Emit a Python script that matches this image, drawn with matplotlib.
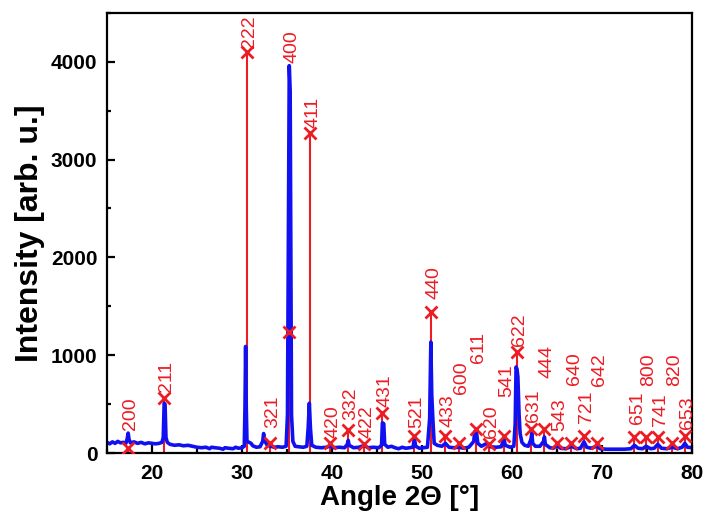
import matplotlib
matplotlib.use("Agg")
import matplotlib.pyplot as plt
from matplotlib.ticker import MultipleLocator

plt.rcParams["font.family"] = ["Liberation Sans", "DejaVu Sans"]

RED = "#ec1c24"
BLUE = "#1010f0"

blue_angle = [
    15.0, 15.3, 15.6, 15.9, 16.2, 16.5, 16.8, 17.1, 17.25, 17.35, 17.45, 17.6,
    18.0, 18.4, 18.8, 19.2, 19.6, 20.0, 20.4, 20.8, 21.1, 21.25, 21.35, 21.45,
    21.55, 21.7, 22.0, 22.5, 23.0, 23.5, 24.0, 24.5, 25.0, 25.5, 26.0, 26.4,
    26.6, 27.0, 27.5, 27.9, 28.1, 28.5, 29.0, 29.3, 29.6, 30.0, 30.25, 30.33,
    30.4, 30.47, 30.55, 30.8, 31.0, 31.2, 31.6, 32.0, 32.3, 32.4, 32.5, 32.8,
    33.2, 33.6, 34.0, 34.5, 34.9, 35.05, 35.25, 35.35, 35.5, 35.65, 35.9, 36.3,
    36.8, 37.2, 37.35, 37.48, 37.6, 37.75, 38.2, 38.8, 39.4, 39.8, 40.2, 40.8,
    41.4, 41.7, 41.8, 41.9, 42.4, 43.0, 43.6, 44.0, 44.6, 45.2, 45.5, 45.6,
    45.75, 45.85, 46.2, 46.6, 47.0, 47.4, 47.8, 48.2, 48.6, 49.0, 49.15, 49.3,
    49.7, 50.2, 50.6, 50.85, 50.98, 51.08, 51.2, 51.35, 51.7, 52.2, 52.6, 53.0,
    53.5, 54.1, 54.6, 55.2, 55.75, 55.85, 56.05, 56.2, 56.6, 57.2, 57.6, 58.2,
    58.8, 59.0, 59.1, 59.25, 59.8, 60.2, 60.35, 60.45, 60.55, 60.65, 60.78, 60.9,
    61.1, 61.4, 61.8, 62.1, 62.2, 62.3, 62.6, 63.1, 63.5, 63.6, 63.7, 64.2,
    64.6, 65.0, 65.4, 66.0, 66.6, 67.2, 67.6, 68.0, 68.3, 68.8, 69.4, 69.8,
    70.5, 71.5, 72.5, 73.2, 73.6, 74.0, 74.5, 74.9, 75.4, 75.8, 76.2, 76.6,
    77.2, 77.8, 78.4, 78.9, 79.2, 79.5, 80.0,
]
blue_int = [
    110, 95, 115, 100, 120, 105, 110, 100, 150, 205, 140, 105,
    115, 100, 110, 95, 105, 100, 95, 100, 110, 160, 510, 500,
    160, 110, 90, 80, 85, 75, 80, 70, 60, 55, 60, 45,
    60, 55, 50, 40, 55, 50, 45, 60, 50, 55, 70, 470,
    1090, 460, 120, 110, 100, 75, 60, 65, 120, 200, 130, 80,
    70, 60, 65, 60, 70, 390, 3960, 3700, 390, 120, 70, 65,
    60, 70, 255, 510, 255, 80, 60, 55, 60, 75, 55, 60,
    55, 90, 130, 80, 55, 60, 80, 55, 60, 55, 80, 310,
    300, 90, 60, 70, 55, 45, 60, 50, 55, 60, 150, 70,
    50, 55, 60, 355, 1135, 600, 355, 100, 80, 70, 100, 60,
    55, 60, 50, 60, 120, 220, 215, 100, 70, 100, 65, 60,
    65, 120, 150, 80, 60, 70, 300, 880, 860, 780, 400, 200,
    110, 80, 70, 140, 200, 100, 70, 70, 120, 165, 90, 55,
    50, 80, 50, 45, 70, 45, 50, 115, 60, 50, 70, 45,
    40, 40, 40, 45, 80, 50, 45, 70, 45, 50, 90, 50,
    45, 60, 45, 60, 100, 60, 55,
]

# reference reflections (red)
hkl = ["200", "211", "222", "321", "400", "411", "420", "332", "422", "431",
       "521", "440", "433", "600", "611", "620", "541", "622", "631", "444",
       "543", "640", "721", "642", "651", "800", "741", "820", "653"]
ref_angle = [17.3, 21.3, 30.5, 33.1, 35.2, 37.55, 39.8, 41.75, 43.6, 45.6,
             49.1, 51.05, 52.6, 54.1, 55.95, 57.4, 59.1, 60.5, 62.1, 63.55,
             65.0, 66.6, 68.0, 69.4, 73.6, 74.9, 76.2, 77.8, 79.2]
ref_int = [50, 565, 4100, 105, 1235, 3270, 100, 240, 95, 410,
           170, 1445, 170, 105, 250, 95, 175, 1035, 250, 242,
           100, 100, 175, 100, 160, 160, 160, 100, 175]

# vertical lift of each label above its marker, in points
label_dy = [13, 4, 3, 11, 194, 4, 4, 7, 4, 4,
            6, 9, 7, 35, 47, 4, 28, 4, 5, 37,
            9, 42, 9, 41, 10, 37, 8, 41, 5]

fig = plt.figure(figsize=(7.04, 5.12), dpi=100)
ax = fig.add_axes([0.152, 0.115, 0.831, 0.86])

ax.vlines(ref_angle, 0, ref_int, color=RED, lw=1.5, zorder=1)
ax.plot(blue_angle, blue_int, color=BLUE, lw=2.6, zorder=2)
ax.plot(ref_angle, ref_int, ls="none", marker="x", ms=9, mew=2.0,
        color=RED, zorder=3)

for name, x, y, dy in zip(hkl, ref_angle, ref_int, label_dy):
    ax.annotate(name, (x, y), xytext=(2, dy), textcoords="offset points",
                rotation=90, ha="center", va="bottom", color=RED,
                fontsize=14, zorder=4, annotation_clip=False)

ax.set_xlim(15, 80)
ax.set_ylim(0, 4500)
ax.xaxis.set_major_locator(MultipleLocator(10))
ax.xaxis.set_minor_locator(MultipleLocator(5))
ax.yaxis.set_major_locator(MultipleLocator(1000))
ax.yaxis.set_minor_locator(MultipleLocator(500))

ax.tick_params(which="both", direction="in", width=1.6)
ax.tick_params(which="major", length=6)
ax.tick_params(which="minor", length=3)
ax.tick_params(axis="x", pad=8)
ax.tick_params(axis="y", pad=7)
for lab in ax.get_xticklabels() + ax.get_yticklabels():
    lab.set_fontsize(15)
    lab.set_fontweight("bold")
for sp in ax.spines.values():
    sp.set_linewidth(1.6)

ax.set_xlabel("Angle 2\u0398 [\u00b0]", fontsize=20, fontweight="bold", labelpad=1)
ax.set_ylabel("Intensity [arb. u.]", fontsize=23, fontweight="bold", labelpad=4)

fig.savefig("out.png", dpi=100)
